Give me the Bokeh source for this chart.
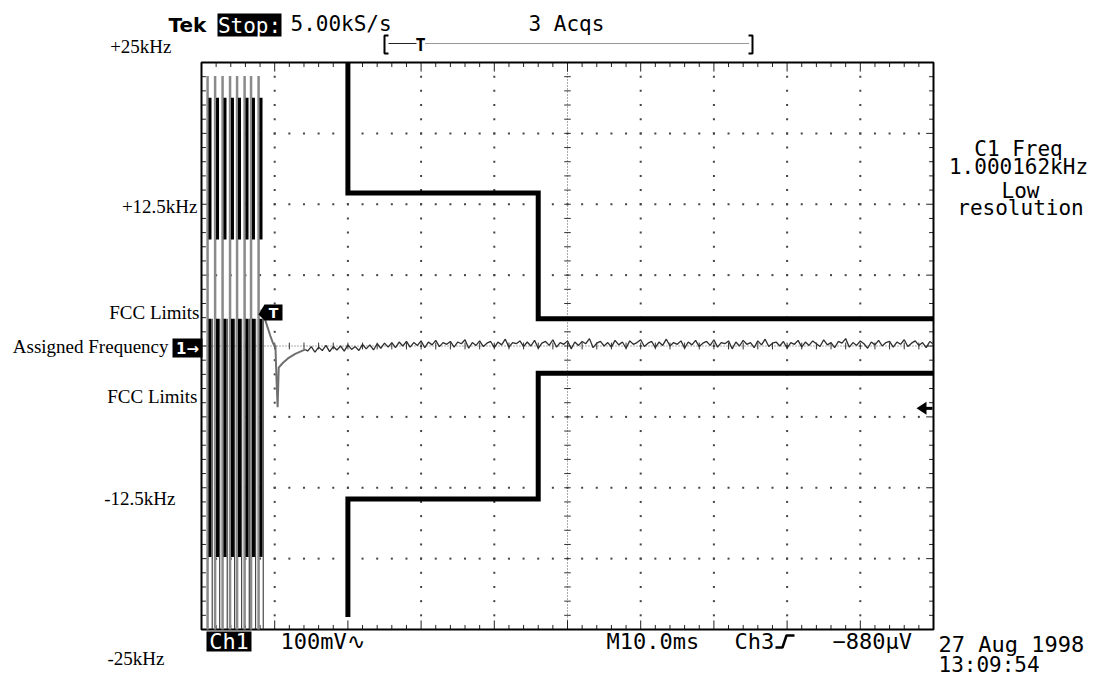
import numpy as np
from bokeh.plotting import figure
from bokeh.models import Range1d
from bokeh.core.properties import value
from bokeh.embed import file_html
from bokeh.resources import INLINE

# ---------------- data (time in ms, frequency deviation in kHz) ----------------
# search burst before lock: one vertical sweep per cycle
burst_t = [1.16, 2.19, 3.21, 4.23, 5.19, 6.22, 7.10, 8.13]
burst_gray_span = (-25.0, 23.8)
burst_black_spans = [(9.4, 21.9), (-18.6, 2.4)]

# lock-in transient after the trigger
transient_t = [8.13, 8.3, 8.7, 9.4, 9.8, 10.1, 10.25, 10.4, 10.55, 11.1, 11.8, 12.8, 14.2]
transient_f = [3.2, 2.9, 2.3, 0.9, 0.2, 0.0, -3.0, -5.4, -1.9, -1.5, -1.1, -0.7, -0.3]

# settled residual deviation, 14.5 ms .. 100 ms
settled_f = [
    -0.45, -0.05, -0.55, -0.10, -0.40, 0.05, -0.50, -0.05, -0.35, 0.00,
    -0.45, 0.10, -0.30, -0.05, -0.40, 0.15, -0.25, 0.10, -0.35, 0.20,
    -0.20, 0.25, -0.10, 0.30, -0.15, 0.35, 0.00, 0.40, -0.10, 0.30,
    0.05, 0.45, -0.15, 0.35, 0.10, 0.50, -0.05, 0.30, 0.15, 0.40,
    -0.10, 0.35, 0.20, 0.55, -0.20, 0.30, 0.05, 0.45, -0.05, 0.25,
    0.40, -0.15, 0.35, 0.10, 0.60, -0.10, 0.30, 0.20, 0.45, -0.05,
    0.35, 0.00, 0.50, -0.20, 0.25, 0.40, 0.05, 0.55, -0.10, 0.30,
    0.15, 0.45, -0.25, 0.35, 0.05, 0.40, 0.20, 0.65, -0.15, 0.25,
    0.40, 0.00, 0.30, -0.10, 0.50, 0.10, 0.35, -0.20, 0.45, 0.15,
    0.30, 0.55, -0.05, 0.25, 0.40, -0.15, 0.35, 0.05, 0.60, 0.00,
    0.30, 0.15, 0.45, -0.20, 0.35, 0.10, 0.50, -0.05, 0.25, 0.40,
    0.05, 0.55, -0.10, 0.30, 0.20, 0.45, -0.25, 0.35, 0.00, 0.50,
    0.15, 0.30, -0.15, 0.45, 0.10, 0.60, -0.05, 0.25, 0.35, 0.00,
    0.40, -0.20, 0.30, 0.15, 0.50, -0.10, 0.35, 0.05, 0.45, 0.20,
    -0.05, 0.55, 0.10, 0.30, -0.15, 0.40, 0.25, 0.65, -0.10, 0.30,
    0.05, 0.45, 0.20, -0.20, 0.35, 0.10, 0.50, 0.00, 0.30, 0.40,
    -0.10, 0.35, 0.15, 0.55, -0.05, 0.25, 0.45, 0.05, 0.30, -0.15,
    0.40, 0.15,
]
settled_start, settled_end = 14.5, 100.0

# FCC emission mask
upper_mask_t = [20, 20, 46, 46, 100]
upper_mask_f = [25.0, 13.5, 13.5, 2.4, 2.4]
lower_mask_t = [20, 20, 46, 46, 100]
lower_mask_f = [-23.9, -13.5, -13.5, -2.4, -2.4]

trigger_level_f = -5.5

# screen layout: 10 x 8 divisions, 10 ms/div, 6.25 kHz/div
n_div_t, n_div_f = 10, 8
div_t, div_f = 10.0, 6.25
t_max = n_div_t * div_t
f_max = n_div_f * div_f / 2

# pixel <-> data helpers for the page furniture
PX_LEFT, PX_PER_MS = 201.0, 7.32
PY_CENTER, PX_PER_KHZ = 345.5, 11.34


def X(px):
    return (px - PX_LEFT) / PX_PER_MS


def Y(py):
    return (PY_CENTER - py) / PX_PER_KHZ


p = figure(width=1101, height=679,
           x_range=Range1d(X(0), X(1101)), y_range=Range1d(Y(679), Y(0)),
           x_axis_type=None, y_axis_type=None,
           toolbar_location=None, output_backend="svg", min_border=0)
p.outline_line_color = None
p.background_fill_color = "white"
p.border_fill_color = "white"

MONO = "DejaVu Sans Mono"
SERIF = "Liberation Serif"


def txt(px, py, s, size, font=MONO, color="black", align="left",
        baseline="alphabetic", style="normal"):
    # py is the visual baseline (or centre line for baseline="middle")
    if baseline == "alphabetic":
        py = py - 0.3 * size
    p.text(x=[X(px)], y=[Y(py)], text=[s], text_font=value(font),
           text_font_size=f"{size}px", text_color=color, text_align=align,
           text_baseline=baseline, text_font_style=style)


def box(l, r, t, b, color="black"):
    p.quad(left=[X(l)], right=[X(r)], top=[Y(t)], bottom=[Y(b)],
           fill_color=color, line_color=None)


# ---------------- graticule ----------------
minor_t = div_t / 5
minor_f = div_f / 5
dot_x, dot_y = [], []
for i in range(1, n_div_t):
    t = i * div_t
    if i == n_div_t // 2:
        continue
    for k in range(1, n_div_f * 5):
        dot_x.append(t)
        dot_y.append(-f_max + k * minor_f)
for j in range(1, n_div_f):
    f = -f_max + j * div_f
    if j == n_div_f // 2:
        continue
    for k in range(1, n_div_t * 5):
        dot_x.append(k * minor_t)
        dot_y.append(f)
p.scatter(dot_x, dot_y, marker="square", size=2.0, fill_color="#444",
          line_color=None)

# center cross: dotted axes with minor ticks
p.line([t_max / 2, t_max / 2], [-f_max, f_max], line_color="#555",
       line_width=1, line_dash="1 2")
p.line([0, t_max], [0, 0], line_color="#555", line_width=1, line_dash="1 2")
cf = [-f_max + k * minor_f for k in range(1, n_div_f * 5)]
p.segment(x0=[t_max / 2 - 0.45] * len(cf), x1=[t_max / 2 + 0.45] * len(cf),
          y0=cf, y1=cf, line_color="#333", line_width=1)
ct = [k * minor_t for k in range(1, n_div_t * 5)]
p.segment(x0=ct, x1=ct, y0=[-0.3] * len(ct), y1=[0.3] * len(ct),
          line_color="#333", line_width=1)

# edge ticks
edge_len_t = [1.0 if k % 5 == 0 else 0.6 for k in range(1, n_div_f * 5)]
p.segment(x0=[0] * len(cf), x1=edge_len_t, y0=cf, y1=cf,
          line_color="#222", line_width=1)
p.segment(x0=[t_max] * len(cf), x1=[t_max - e for e in edge_len_t], y0=cf,
          y1=cf, line_color="#222", line_width=1)
edge_len_f = [0.8 if k % 5 == 0 else 0.4 for k in range(1, n_div_t * 5)]
p.segment(x0=ct, x1=ct, y0=[f_max] * len(ct),
          y1=[f_max - e for e in edge_len_f], line_color="#222", line_width=1)
p.segment(x0=ct, x1=ct, y0=[-f_max] * len(ct),
          y1=[-f_max + e for e in edge_len_f], line_color="#222", line_width=1)

# frame
p.quad(left=[0], right=[t_max], bottom=[-f_max], top=[f_max],
       fill_color=None, line_color="black", line_width=2)

# ---------------- search burst ----------------
n = len(burst_t)
gx = [t - 0.33 for t in burst_t]
p.segment(x0=gx, x1=gx, y0=[burst_gray_span[0]] * n,
          y1=[burst_gray_span[1]] * n, line_color="#8a8a8a", line_width=2.5)
tx = [t + 0.3 for t in burst_t]
p.segment(x0=tx, x1=tx, y0=[-f_max] * n, y1=[burst_black_spans[1][1]] * n,
          line_color="#222", line_width=1)
for lo, hi in burst_black_spans:
    p.segment(x0=burst_t, x1=burst_t, y0=[lo] * n, y1=[hi] * n,
              line_color="black", line_width=3)

# ---------------- trace ----------------
p.line(transient_t, transient_f, line_color="#707070", line_width=2)
settled_t = np.linspace(settled_start, settled_end, len(settled_f))
p.line(list(transient_t[-1:]) + list(settled_t),
       list(transient_f[-1:]) + settled_f, line_color="#2e2e2e",
       line_width=1.3)

# ---------------- FCC mask ----------------
for mt, mf in ((upper_mask_t, upper_mask_f), (lower_mask_t, lower_mask_f)):
    p.line(mt, mf, line_color="black", line_width=5, line_join="miter")

# ---------------- header ----------------
txt(168, 30, "Tek", 20, font="DejaVu Sans", style="bold")
box(217, 281, 13, 36)
txt(249, 25, "Stop:", 21, color="white", align="center", baseline="middle")
txt(290, 30, "5.00kS/s", 21)
txt(528, 30, "3 Acqs", 21)

# record-length bracket with trigger position
for bx, dx in ((384, 4), (752, -4)):
    p.line([X(bx + dx), X(bx), X(bx), X(bx + dx)], [Y(35), Y(35), Y(53), Y(53)],
           line_color="black", line_width=2)
p.line([X(388), X(416)], [Y(43), Y(43)], line_color="#222", line_width=1)
p.line([X(425), X(748)], [Y(43), Y(43)], line_color="#333", line_width=1,
       line_dash="1 1")
txt(420, 44, "T", 17, style="bold", align="center", baseline="middle")

# ---------------- left labels ----------------
txt(171, 52, "+25kHz", 19, font=SERIF, align="right")
txt(197, 212, "+12.5kHz", 19, font=SERIF, align="right")
txt(199, 318, "FCC Limits", 19, font=SERIF, align="right")
txt(168, 352, "Assigned Frequency", 19, font=SERIF, align="right")
txt(197, 402, "FCC Limits", 19, font=SERIF, align="right")
txt(175, 504, "-12.5kHz", 19, font=SERIF, align="right")
txt(164, 664, "-25kHz", 19, font=SERIF, align="right")

# channel 1 ground marker
p.quad(left=[X(172)], right=[X(202)], top=[Y(338)], bottom=[Y(357)],
       fill_color="black", line_color=None)
txt(187, 348, "1\u2192", 15, font="DejaVu Sans", color="white", style="bold",
    align="center", baseline="middle")

# trigger marker
p.patch([X(258), X(264), X(282), X(282), X(264)],
        [Y(314), Y(304), Y(304), Y(320), Y(320)], fill_color="black",
        line_color=None)
txt(273, 312, "T", 14, font="DejaVu Sans", color="white", style="bold",
    align="center", baseline="middle")

# trigger level arrow on the right edge
p.patch([X(916), X(926), X(926)],
        [trigger_level_f, trigger_level_f + 6.5 / PX_PER_KHZ,
         trigger_level_f - 6.5 / PX_PER_KHZ],
        fill_color="black", line_color=None)
p.line([X(924), X(932)], [trigger_level_f, trigger_level_f],
       line_color="black", line_width=3)

# ---------------- measurement readout ----------------
txt(1018, 155, "C1 Freq", 21, align="center")
txt(1018, 173, "1.000162kHz", 21, align="center")
txt(1020, 197, "Low", 21, align="center")
txt(1020, 214, "resolution", 21, align="center")

# ---------------- bottom status line ----------------
box(206, 251, 631, 651)
txt(228.5, 641, "Ch1", 22, color="white", align="center", baseline="middle")
txt(280, 648, "100mV\u223f", 22)
txt(606, 648, "M10.0ms", 22)
txt(734, 648, "Ch3", 22)
p.line([X(775), X(782), X(786), X(794)], [Y(647), Y(647), Y(635), Y(635)],
       line_color="black", line_width=2.5)
txt(832, 648, "\u2212880\u00b5V", 22)
txt(938, 651, "27 Aug 1998", 22)
txt(938, 671, "13:09:54", 21)

open("out.html", "w").write(file_html(p, INLINE))
